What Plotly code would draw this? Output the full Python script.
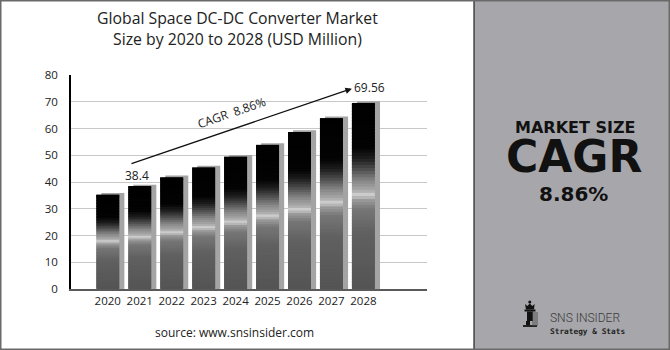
import plotly.graph_objects as go
from plotly.colors import sample_colorscale

# ---- data ----
years = ["2020", "2021", "2022", "2023", "2024", "2025", "2026", "2027", "2028"]
values = [35.3, 38.4, 41.8, 45.5, 49.5, 53.9, 58.7, 63.9, 69.56]
y_ticks = [0, 10, 20, 30, 40, 50, 60, 70, 80]
first_label = "38.4"
last_label = "69.56"
cagr_text = "CAGR  8.86%"
cagr_value = "8.86%"

# ---- layout geometry (pixels) ----
W, H = 670, 350
L, R, T, B = 71, 243, 75, 61
PW, PH = W - L - R, H - T - B


def px2x(px):
    return (px - L) / PW


def py2y(py):
    return (H - B - py) / PH


xs = list(range(len(years)))
BAR_W = 0.72
SHIFT = 0.16

# gradient (fraction from bottom of bar)
grad = [
    [0.00, "#545454"], [0.30, "#606060"], [0.43, "#767676"], [0.48, "#9c9c9c"],
    [0.505, "#d2d2d2"], [0.53, "#a8a8a8"], [0.58, "#888888"], [0.64, "#505050"],
    [0.70, "#1e1e1e"], [0.76, "#030303"], [1.00, "#000000"],
]
N = 60
cols = sample_colorscale(grad, [(i + 0.5) / N for i in range(N)])

fig = go.Figure()

# shadow bars
fig.add_trace(go.Bar(
    x=xs, y=[v + 0.6 for v in values], width=BAR_W, offset=-BAR_W / 2 + SHIFT,
    marker=dict(color="#a4a4a4", line=dict(width=0)), hoverinfo="skip", showlegend=False,
))

# gradient segments of the main bars
for i in range(N):
    base = [v * i / N for v in values]
    top = [min(v * (i + 1.6) / N, v) for v in values]
    fig.add_trace(go.Bar(
        x=xs, y=[t - b for t, b in zip(top, base)], base=base, width=BAR_W,
        marker=dict(color=cols[i], line=dict(width=0)),
        hoverinfo="skip", showlegend=False,
    ))

fig.update_layout(
    width=W, height=H, margin=dict(l=L, r=R, t=T, b=B),
    paper_bgcolor="white", plot_bgcolor="white", barmode="overlay",
    showlegend=False,
    font=dict(family="Open Sans", color="#222222"),
    xaxis=dict(
        range=[-1.15, 9.99], tickmode="array", tickvals=xs, ticktext=years,
        showgrid=False, zeroline=False, showline=True, linecolor="#5a5a5a",
        linewidth=2, ticks="", tickfont=dict(size=11.5, family="Open Sans", color="#222"),
        fixedrange=True,
    ),
    yaxis=dict(
        range=[0, 80], tickmode="array", tickvals=y_ticks,
        showgrid=True, gridcolor="#c8c8c8", gridwidth=1, zeroline=False,
        showline=True, linecolor="#000000", linewidth=1.5, ticks="",
        ticklabelstandoff=9, tickfont=dict(size=11.5, family="Open Sans", color="#222"),
        fixedrange=True,
    ),
)


def txt(x, y, text, size, family="Open Sans", color="#222", xanchor="center", **kw):
    return dict(xref="paper", yref="paper", x=px2x(x), y=py2y(y), text=text, showarrow=False,
                xanchor=xanchor, yanchor="middle", font=dict(size=size, family=family, color=color, **kw))


ann = []
# title
ann.append(txt(237, 28, "Global Space DC-DC Converter Market<br>Size by 2020 to 2028 (USD Million)", 15.8))
# arrow
ann.append(dict(xref="x", yref="y", axref="x", ayref="y", x=7.64, y=74.9, ax=0.695, ay=46.7,
                showarrow=True, arrowhead=2, arrowsize=1, arrowwidth=1.3, arrowcolor="#111", text=""))
ann.append(dict(xref="x", yref="y", x=3.88, y=66.0, text=cagr_text, textangle=-19, showarrow=False,
                xanchor="center", yanchor="middle",
                font=dict(size=12, family="Open Sans", color="#222")))
ann.append(dict(xref="x", yref="y", x=0.905, y=42.6, text=first_label, showarrow=False,
                xanchor="center", yanchor="middle",
                font=dict(size=12, family="Open Sans", color="#222")))
ann.append(dict(xref="x", yref="y", x=8.18, y=75.5, text=last_label, showarrow=False,
                xanchor="center", yanchor="middle",
                font=dict(size=12, family="Open Sans", color="#222")))
# source
ann.append(txt(234, 332, "source: www.snsinsider.com", 12))
# right panel texts
ann.append(txt(575, 127, "<b>MARKET SIZE</b>", 16, family="DejaVu Sans", color="#111"))
ann.append(txt(574, 156, "<b>CAGR</b>", 44, family="DejaVu Sans", color="#111"))
ann.append(txt(573, 193.5, "<b>" + cagr_value + "</b>", 20, family="DejaVu Sans", color="#111"))
# logo texts
ann.append(txt(548, 318, "SNS INSIDER", 12, family="Roboto", color="#3a3a3a", xanchor="left", weight=300))
ann.append(txt(548, 331.5, "<b>Strategy & Stats</b>", 7.8, family="DejaVu Sans Mono", color="#222", xanchor="left"))
fig.update_layout(annotations=ann)

shapes = []
# right panel
shapes.append(dict(type="rect", xref="paper", yref="paper", x0=px2x(474), x1=px2x(671), y0=py2y(351), y1=py2y(-1),
                   fillcolor="#a7a7ab", line=dict(width=0), layer="below"))
shapes.append(dict(type="line", xref="paper", yref="paper", x0=px2x(474), x1=px2x(474), y0=py2y(350), y1=py2y(0),
                   line=dict(color="#222", width=1.2)))
# outer frame
shapes.append(dict(type="rect", xref="paper", yref="paper", x0=px2x(0.75), x1=px2x(669.25), y0=py2y(349.25), y1=py2y(0.75),
                   line=dict(color="#6a6a6a", width=1.5), fillcolor="rgba(0,0,0,0)"))


def prect(x0, y0, x1, y1, color):
    return dict(type="rect", xref="paper", yref="paper", x0=px2x(x0), x1=px2x(x1), y0=py2y(y1), y1=py2y(y0),
                fillcolor=color, line=dict(width=0))


# rook logo
shapes.append(dict(type="circle", xref="paper", yref="paper", x0=px2x(528.3), x1=px2x(531.3), y0=py2y(303.5), y1=py2y(300.5),
                   fillcolor="#111", line=dict(width=0)))
crown = [(525, 304), (527.3, 306), (529.8, 303.5), (532.3, 306), (534.6, 304), (534, 309.5), (526, 309.5)]
path = "M " + " L ".join(f"{px2x(a)},{py2y(b)}" for a, b in crown) + " Z"
shapes.append(dict(type="path", xref="paper", yref="paper", path=path, fillcolor="#111", line=dict(width=0)))
shapes.append(prect(524.5, 309.5, 535.5, 311.5, "#111"))
shapes.append(prect(527, 311.5, 533, 321, "#111"))
shapes.append(prect(526, 321, 530, 326, "#111"))
shapes.append(prect(523, 325, 537, 327, "#222"))
for gx in (532.5, 534.5, 536.5):
    shapes.append(prect(gx, 312, gx + 1, 326, "#555"))
fig.update_layout(shapes=shapes)

fig.write_html("out.html")
